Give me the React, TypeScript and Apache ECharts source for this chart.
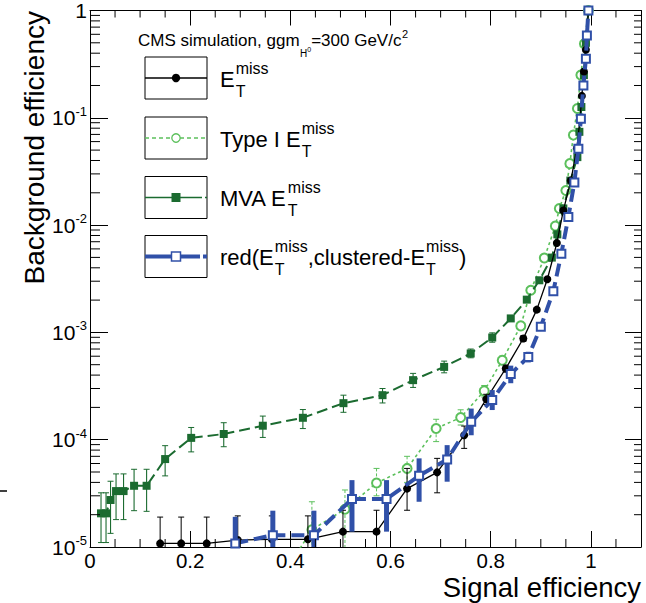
import React, { useEffect, useRef } from "react";
import * as echarts from "echarts";

const FONT = '"Liberation Sans", Arial, Helvetica, sans-serif';

// ---------- tick labels ----------
const xTickLabels = [0, 0.2, 0.4, 0.6, 0.8, 1];
const yDecades = [-5, -4, -3, -2, -1, 0];

// ---------- E_T^miss (black, filled circles) ----------
const metX = [0.14, 0.182, 0.233, 0.295, 0.363, 0.435, 0.505, 0.572, 0.633, 0.693, 0.747, 0.791, 0.83, 0.865, 0.892, 0.913, 0.932, 0.945, 0.96, 0.972, 0.978, 0.982, 0.986, 0.99, 0.995];
const metY = [1.08e-5, 1.08e-5, 1.08e-5, 1.16e-5, 1.18e-5, 1.18e-5, 1.39e-5, 1.39e-5, 3.5e-5, 4.96e-5, 1.1e-4, 2.39e-4, 4.61e-4, 8.77e-4, 1.63e-3, 3.13e-3, 6.8e-3, 1.37e-2, 2.6e-2, 5.2e-2, 9.5e-2, 0.16, 0.27, 0.43, 1.0];
const metHi = [1.9e-5, 1.9e-5, 1.9e-5, 1.95e-5, 1.95e-5, 1.95e-5, 2.2e-5, 2.2e-5, 5.4e-5, 6.7e-5, 1.34e-4, 2.65e-4, 4.95e-4, 9.3e-4, 1.7e-3, 3.25e-3, 7.0e-3, 1.4e-2, 2.65e-2, 5.3e-2, 9.7e-2, 0.163, 0.275, 0.44, 1.0];
const metLo = [3e-6, 3e-6, 3e-6, 4e-6, 4e-6, 4e-6, 6e-6, 6e-6, 2.2e-5, 3.2e-5, 8.3e-5, 2.13e-4, 4.27e-4, 8.25e-4, 1.56e-3, 3.01e-3, 6.6e-3, 1.34e-2, 2.55e-2, 5.1e-2, 9.3e-2, 0.157, 0.265, 0.42, 1.0];

// ---------- Type I E_T^miss (light green, open circles) ----------
const t1X = [0.40, 0.443, 0.509, 0.572, 0.633, 0.691, 0.74, 0.787, 0.823, 0.86, 0.88, 0.907, 0.929, 0.937, 0.95, 0.958, 0.965, 0.973, 0.98, 0.987, 0.995];
const t1Y = [7e-6, 1.45e-5, 2.25e-5, 3.95e-5, 5.4e-5, 1.27e-4, 1.61e-4, 2.85e-4, 5.5e-4, 1.15e-3, 2.47e-3, 4.94e-3, 9.8e-3, 1.43e-2, 2.1e-2, 3.74e-2, 6.9e-2, 0.122, 0.25, 0.49, 1.0];
const t1Hi = [8e-6, 2.64e-5, 3.4e-5, 5.4e-5, 7.0e-5, 1.55e-4, 1.9e-4, 3.2e-4, 6.0e-4, 1.23e-3, 2.58e-3, 5.1e-3, 1.01e-2, 1.47e-2, 2.15e-2, 3.8e-2, 7.0e-2, 0.124, 0.253, 0.495, 1.0];
const t1Lo = [3e-6, 6e-6, 7e-6, 3.0e-5, 4.0e-5, 9.6e-5, 1.37e-4, 2.5e-4, 5.0e-4, 1.07e-3, 2.36e-3, 4.78e-3, 9.6e-3, 1.39e-2, 2.05e-2, 3.68e-2, 6.8e-2, 0.12, 0.247, 0.485, 1.0];

// ---------- MVA E_T^miss (dark green, filled squares) ----------
const mvaX = [0.022, 0.032, 0.041, 0.052, 0.067, 0.088, 0.113, 0.15, 0.202, 0.267, 0.345, 0.425, 0.506, 0.584, 0.645, 0.707, 0.76, 0.803, 0.84, 0.872, 0.897, 0.922, 0.933, 0.945, 0.959, 0.973, 0.977, 0.981, 0.986, 0.99, 0.995];
const mvaY = [2.06e-5, 2.06e-5, 2.74e-5, 3.32e-5, 3.32e-5, 3.72e-5, 3.72e-5, 6.6e-5, 1.04e-4, 1.13e-4, 1.35e-4, 1.6e-4, 2.19e-4, 2.6e-4, 3.59e-4, 4.77e-4, 6.36e-4, 8.96e-4, 1.35e-3, 2.02e-3, 3.06e-3, 4.98e-3, 8.2e-3, 1.43e-2, 2.6e-2, 4.3e-2, 7.4e-2, 0.126, 0.25, 0.5, 1.0];
const mvaHi = [3.2e-5, 3.2e-5, 4.1e-5, 4.8e-5, 4.8e-5, 5.3e-5, 5.3e-5, 8.8e-5, 1.3e-4, 1.44e-4, 1.66e-4, 1.91e-4, 2.6e-4, 3.0e-4, 4.15e-4, 5.4e-4, 7.0e-4, 9.9e-4, 1.43e-3, 2.1e-3, 3.18e-3, 5.15e-3, 8.5e-3, 1.48e-2, 2.68e-2, 4.4e-2, 7.6e-2, 0.129, 0.255, 0.505, 1.0];
const mvaLo = [1.1e-5, 1.1e-5, 1.34e-5, 1.8e-5, 1.8e-5, 2.18e-5, 2.15e-5, 4.6e-5, 7.7e-5, 8.6e-5, 1.05e-4, 1.27e-4, 1.8e-4, 2.2e-4, 3.07e-4, 4.2e-4, 5.8e-4, 8.1e-4, 1.27e-3, 1.94e-3, 2.94e-3, 4.8e-3, 7.9e-3, 1.38e-2, 2.52e-2, 4.2e-2, 7.2e-2, 0.123, 0.245, 0.495, 1.0];

// ---------- red(E_T^miss, clustered-E_T^miss) (blue, open squares) ----------
const redX = [0.29, 0.365, 0.447, 0.523, 0.592, 0.657, 0.713, 0.761, 0.803, 0.84, 0.875, 0.9, 0.925, 0.941, 0.955, 0.967, 0.975, 0.98, 0.985, 0.99, 0.992, 0.995];
const redY = [1.08e-5, 1.29e-5, 1.29e-5, 2.8e-5, 2.8e-5, 4.61e-5, 6.55e-5, 1.47e-4, 2.34e-4, 4.1e-4, 5.91e-4, 1.13e-3, 2.42e-3, 5.42e-3, 1.19e-2, 2.5e-2, 5.15e-2, 9.8e-2, 0.2, 0.355, 0.585, 1.0];
const redHi = [1.91e-5, 2.18e-5, 2.18e-5, 4.2e-5, 4.2e-5, 6.7e-5, 8.9e-5, 1.95e-4, 2.9e-4, 4.9e-4, 6.6e-4, 1.23e-3, 2.6e-3, 5.7e-3, 1.24e-2, 2.58e-2, 5.3e-2, 0.1, 0.205, 0.36, 0.59, 1.0];
const redLo = [3e-6, 5e-6, 5e-6, 1.39e-5, 1.39e-5, 2.64e-5, 4.06e-5, 1.10e-4, 1.89e-4, 3.36e-4, 5.25e-4, 1.04e-3, 2.25e-3, 5.15e-3, 1.14e-2, 2.42e-2, 5.0e-2, 9.6e-2, 0.195, 0.35, 0.58, 1.0];

const C_BLACK = "#000000";
const C_LIGHT = "#5cc05c";
const C_DARK = "#1b6b30";
const C_BLUE = "#3050a8";

function measure(text: string, size: number): number {
  const ctx = document.createElement("canvas").getContext("2d") as CanvasRenderingContext2D;
  ctx.font = `${size}px "Liberation Sans"`;
  return ctx.measureText(text).width;
}

type Piece = { text: string } | { sup: string; sub: string };

function scriptText(pieces: Piece[], x0: number, yMid: number, main: number, small: number, supDy: number, subDy: number): any[] {
  const els: any[] = [];
  let x = x0;
  for (const p of pieces) {
    if ("text" in p) {
      els.push({ type: "text", x, y: yMid, style: { text: p.text, fontSize: main, fontFamily: FONT, fill: "#000", align: "left", verticalAlign: "middle" } });
      x += measure(p.text, main);
    } else {
      els.push({ type: "text", x: x + 1, y: yMid + supDy, style: { text: p.sup, fontSize: small, fontFamily: FONT, fill: "#000", align: "left", verticalAlign: "middle" } });
      els.push({ type: "text", x: x + 1, y: yMid + subDy, style: { text: p.sub, fontSize: small, fontFamily: FONT, fill: "#000", align: "left", verticalAlign: "middle" } });
      x += Math.max(measure(p.sup, small), measure(p.sub, small)) + 1;
    }
  }
  return els;
}

function errRender(color: string, width: number, dash: number[] | null, cap: number) {
  return (params: any, api: any) => {
    const x = api.value(0);
    const lo = api.value(1);
    const hi = api.value(2);
    const a = api.coord([x, hi]);
    const b = api.coord([x, lo]);
    const children: any[] = [
      { type: "line", shape: { x1: a[0], y1: a[1], x2: b[0], y2: b[1] }, style: { stroke: color, lineWidth: width, lineDash: dash || undefined } },
    ];
    if (cap > 0 && Math.abs(a[1] - b[1]) > 1) {
      children.push({ type: "line", shape: { x1: a[0] - cap, y1: a[1], x2: a[0] + cap, y2: a[1] }, style: { stroke: color, lineWidth: 1 } });
      children.push({ type: "line", shape: { x1: b[0] - cap, y1: b[1], x2: b[0] + cap, y2: b[1] }, style: { stroke: color, lineWidth: 1 } });
    }
    return { type: "group", children };
  };
}

function zip3(a: number[], b: number[], c: number[]) {
  return a.map((v, i) => [v, b[i], c[i]]);
}
function zip2(a: number[], b: number[]) {
  return a.map((v, i) => [v, b[i]]);
}

export default function App() {
  const ref = useRef<HTMLDivElement>(null);

  useEffect(() => {
    if (!ref.current) return;
    const chart = echarts.init(ref.current, null, { renderer: "svg" });

    // minor tick values (axis decoration)
    const yMinor: number[][] = [];
    for (let d = -5; d < 0; d++) for (let k = 2; k <= 9; k++) yMinor.push([0.5, k * Math.pow(10, d)]);
    const xMinor: number[][] = [];
    for (let i = 1; i <= 21; i++) if (i % 4 !== 0) xMinor.push([i * 0.05, 0.1]);

    const yTickRender = (params: any, api: any) => {
      const cs = params.coordSys;
      const p = api.coord([api.value(0), api.value(1)]);
      const st = { stroke: "#000", lineWidth: 1 };
      return {
        type: "group",
        children: [
          { type: "line", shape: { x1: cs.x, y1: p[1], x2: cs.x + 10, y2: p[1] }, style: st },
          { type: "line", shape: { x1: cs.x + cs.width - 7, y1: p[1], x2: cs.x + cs.width, y2: p[1] }, style: st },
        ],
      };
    };
    const xTickRender = (params: any, api: any) => {
      const cs = params.coordSys;
      const p = api.coord([api.value(0), api.value(1)]);
      const st = { stroke: "#000", lineWidth: 1 };
      return {
        type: "group",
        children: [
          { type: "line", shape: { x1: p[0], y1: cs.y + cs.height, x2: p[0], y2: cs.y + cs.height - 8 }, style: st },
          { type: "line", shape: { x1: p[0], y1: cs.y, x2: p[0], y2: cs.y + 7 }, style: st },
        ],
      };
    };

    const yLabel = (v: number) => {
      const e = Math.round(Math.log10(v));
      if (!yDecades.includes(e)) return "";
      if (e === 0) return "{b|1}";
      return `{b|10}{s|${e}}`;
    };
    const xLabel = (v: number) => {
      const hit = xTickLabels.find((t) => Math.abs(t - v) < 1e-6);
      return hit === undefined ? "" : String(hit);
    };

    const legendCy = [78, 138, 197.5, 256.5];
    const boxX = 145;
    const boxW = 62;
    const boxH = 42;
    const mx = boxX + boxW / 2;

    const graphics: any[] = [];
    // legend boxes
    legendCy.forEach((cy) => {
      graphics.push({ type: "rect", shape: { x: boxX, y: cy - boxH / 2, width: boxW, height: boxH }, style: { fill: "#fff", stroke: "#000", lineWidth: 1 }, z: 100 });
    });
    graphics.push({ type: "line", shape: { x1: boxX, y1: legendCy[0], x2: boxX + boxW, y2: legendCy[0] }, style: { stroke: C_BLACK, lineWidth: 1.3 }, z: 101 });
    graphics.push({ type: "circle", shape: { cx: mx, cy: legendCy[0], r: 4.2 }, style: { fill: C_BLACK }, z: 102 });
    graphics.push({ type: "line", shape: { x1: boxX, y1: legendCy[1], x2: boxX + boxW, y2: legendCy[1] }, style: { stroke: C_LIGHT, lineWidth: 1.5, lineDash: [4, 3] }, z: 101 });
    graphics.push({ type: "circle", shape: { cx: mx, cy: legendCy[1], r: 4.2 }, style: { fill: "#fff", stroke: C_LIGHT, lineWidth: 1.3 }, z: 102 });
    graphics.push({ type: "line", shape: { x1: boxX, y1: legendCy[2], x2: boxX + boxW, y2: legendCy[2] }, style: { stroke: C_DARK, lineWidth: 1.5, lineDash: [27, 3] }, z: 101 });
    graphics.push({ type: "rect", shape: { x: mx - 4.5, y: legendCy[2] - 4.5, width: 9, height: 9 }, style: { fill: C_DARK }, z: 102 });
    graphics.push({ type: "line", shape: { x1: boxX, y1: legendCy[3], x2: boxX + boxW, y2: legendCy[3] }, style: { stroke: C_BLUE, lineWidth: 4, lineDash: [26, 3] }, z: 101 });
    graphics.push({ type: "rect", shape: { x: mx - 4.5, y: legendCy[3] - 4.5, width: 9, height: 9 }, style: { fill: "#fff", stroke: C_BLUE, lineWidth: 1.5 }, z: 102 });

    const MS: Piece = { sup: "miss", sub: "T" };
    const legendTexts: Piece[][] = [
      [{ text: "E" }, MS],
      [{ text: "Type I E" }, MS],
      [{ text: "MVA E" }, MS],
      [{ text: "red(E" }, MS, { text: ",clustered-E" }, MS, { text: ")" }],
    ];
    legendTexts.forEach((pcs, i) => {
      scriptText(pcs, 220, legendCy[i] + 1, 22, 16, -11, 12).forEach((e) => graphics.push({ ...e, z: 103 }));
    });

    // title
    {
      const x0 = 138;
      const yMid = 40;
      const els: any[] = [];
      let x = x0;
      const t1 = "CMS simulation, ggm";
      els.push({ type: "text", x, y: yMid, style: { text: t1, fontSize: 17, fontFamily: FONT, fill: "#000", verticalAlign: "middle" } });
      x += measure(t1, 17);
      els.push({ type: "text", x: x + 0.5, y: yMid + 13, style: { text: "H", fontSize: 10, fontFamily: FONT, fill: "#000", verticalAlign: "middle" } });
      x += measure("H", 10) + 0.5;
      els.push({ type: "text", x, y: yMid + 9, style: { text: "0", fontSize: 7, fontFamily: FONT, fill: "#000", verticalAlign: "middle" } });
      x += measure("0", 7);
      const t2 = "=300 GeV/c";
      els.push({ type: "text", x, y: yMid, style: { text: t2, fontSize: 17, fontFamily: FONT, fill: "#000", verticalAlign: "middle" } });
      x += measure(t2, 17);
      els.push({ type: "text", x: x + 0.5, y: yMid - 6, style: { text: "2", fontSize: 11, fontFamily: FONT, fill: "#000", verticalAlign: "middle" } });
      els.forEach((e) => graphics.push({ ...e, z: 103 }));
    }

    // axis titles
    graphics.push({ type: "text", x: 34, y: 11, rotation: Math.PI / 2, style: { text: "Background efficiency", fontSize: 28, fontFamily: FONT, fill: "#000", align: "right", verticalAlign: "middle" }, z: 103 });
    graphics.push({ type: "text", x: 641, y: 587, style: { text: "Signal efficiency", fontSize: 27.5, lineHeight: 28, fontFamily: FONT, fill: "#000", align: "right", verticalAlign: "middle" }, z: 103 });
    // stray mark at left edge
    graphics.push({ type: "line", shape: { x1: 0, y1: 491, x2: 7, y2: 491 }, style: { stroke: "#000", lineWidth: 1.5 }, z: 103 });

    const xAxisBase = { type: "value", min: 0, max: 1.1, interval: 0.2, splitLine: { show: false }, axisLine: { show: true, onZero: false, lineStyle: { color: "#000", width: 1 } } };
    const yAxisBase = { type: "log", logBase: 10, min: 1e-5, max: 1, splitNumber: 5, splitLine: { show: false }, axisLine: { show: true, onZero: false, lineStyle: { color: "#000", width: 1 } } };

    const lineSeries = (name: string, xs: number[], ys: number[], color: string, width: number, dash: any, symbol: string, size: number, filled: boolean, z: number) => ({
      type: "line",
      name,
      data: zip2(xs, ys),
      xAxisIndex: 0,
      yAxisIndex: 0,
      symbol,
      symbolSize: size,
      showSymbol: true,
      clip: true,
      silent: true,
      z,
      lineStyle: { color, width, type: dash },
      itemStyle: filled ? { color, borderWidth: 0 } : { color, borderColor: color, borderWidth: 1.4 },
      emphasis: { disabled: true },
    });
    const errSeries = (xs: number[], lo: number[], hi: number[], color: string, width: number, dash: number[] | null, cap: number, z: number) => ({
      type: "custom",
      data: zip3(xs, lo, hi),
      xAxisIndex: 0,
      yAxisIndex: 0,
      encode: { x: 0, y: [1, 2] },
      clip: true,
      silent: true,
      z,
      renderItem: errRender(color, width, dash, cap),
    });

    chart.setOption({
      animation: false,
      backgroundColor: "#fff",
      textStyle: { fontFamily: FONT },
      grid: { left: 90, right: 5, top: 10, bottom: 56, containLabel: false },
      xAxis: [
        {
          ...xAxisBase,
          position: "bottom",
          axisTick: { show: true, inside: true, length: 16, lineStyle: { color: "#000" } },
          axisLabel: { show: true, formatter: xLabel, fontSize: 20.5, lineHeight: 20, fontFamily: FONT, color: "#000", margin: 3 },
        },
        {
          ...xAxisBase,
          position: "top",
          axisTick: { show: true, inside: true, length: 15, lineStyle: { color: "#000" } },
          axisLabel: { show: false },
        },
      ],
      yAxis: [
        {
          ...yAxisBase,
          position: "left",
          axisTick: { show: true, inside: true, length: 18, lineStyle: { color: "#000" } },
          axisLabel: {
            show: true,
            formatter: yLabel,
            margin: 3,
            color: "#000",
            rich: {
              b: { fontSize: 21, fontFamily: FONT, color: "#000", lineHeight: 26 },
              s: { fontSize: 13, fontFamily: FONT, color: "#000", lineHeight: 12, verticalAlign: "top" },
            },
          },
        },
        {
          ...yAxisBase,
          position: "right",
          axisTick: { show: true, inside: true, length: 16, lineStyle: { color: "#000" } },
          axisLabel: { show: false },
        },
      ],
      series: [
        { type: "custom", data: yMinor, encode: { x: 0, y: 1 }, renderItem: yTickRender, clip: false, silent: true, z: 20 },
        { type: "custom", data: xMinor, encode: { x: 0, y: 1 }, renderItem: xTickRender, clip: false, silent: true, z: 20 },
        errSeries(t1X, t1Lo, t1Hi, C_LIGHT, 1, [3, 2], 3, 2),
        lineSeries("Type I", t1X, t1Y, C_LIGHT, 1.6, [3, 3], "emptyCircle", 9, false, 3),
        errSeries(mvaX, mvaLo, mvaHi, C_DARK, 1.1, null, 3, 4),
        lineSeries("MVA", mvaX, mvaY, C_DARK, 2, [11, 5], "rect", 8, true, 5),
        errSeries(metX, metLo, metHi, C_BLACK, 1, null, 3, 6),
        lineSeries("MET", metX, metY, C_BLACK, 1.3, "solid", "circle", 8, true, 7),
        errSeries(redX, redLo, redHi, C_BLUE, 5, null, 0, 8),
        lineSeries("red", redX, redY, C_BLUE, 4, [13, 6], "emptyRect", 8, false, 9),
      ],
      graphic: graphics,
    });

    return () => chart.dispose();
  }, []);

  return <div ref={ref} style={{ position: "fixed", left: 0, top: 0, width: 646, height: 603, background: "#fff" }} />;
}
